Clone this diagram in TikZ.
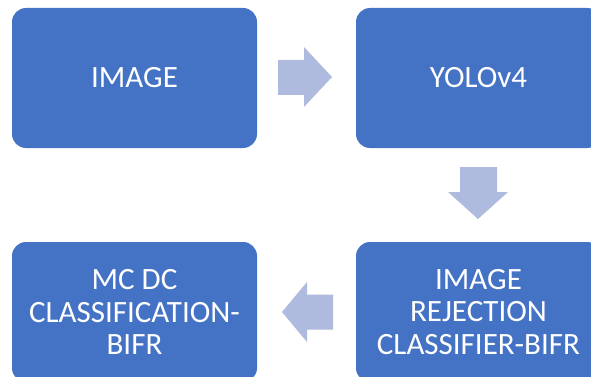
\documentclass[tikz,border=0pt]{standalone}
\usepackage{fontspec}
\setmainfont{Carlito}
\definecolor{boxblue}{RGB}{68,114,196}
\definecolor{arrowblue}{RGB}{174,187,222}
\begin{document}
\begin{tikzpicture}[x=1pt,y=-1pt,
  stage/.style={fill=boxblue, rounded corners=14pt, minimum width=245pt, minimum height=140pt,
    inner sep=0pt, text=white, align=center, font=\fontsize{31}{32.5}\selectfont},
  blockarrow/.style={fill=arrowblue}]
\useasboundingbox (0,0) rectangle (591,377);
\clip (0,0) rectangle (591,377);
\fill[white] (0,0) rectangle (591,377);
\node[stage] (img)  at (134.5,78)  {IMAGE};
\node[stage] (yolo) at (478.5,78)  {YOLOv4};
\node[stage] (rej)  at (478.5,312) {IMAGE\\REJECTION\\CLASSIFIER-BIFR};
\node[stage] (mc)   at (134.5,312) {MC DC\\CLASSIFICATION-\\BIFR};
% arrow IMAGE -> YOLOv4
\fill[blockarrow] (278,60) -- (304,60) -- (304,47) -- (332,77) -- (304,107) -- (304,95) -- (278,95) -- cycle;
% arrow YOLOv4 -> REJECTION
\fill[blockarrow] (460,167) -- (497,167) -- (497,192) -- (508,192) -- (478,219) -- (448,192) -- (460,192) -- cycle;
% arrow REJECTION -> MC DC
\fill[blockarrow] (333,294.5) -- (307,294.5) -- (307,282) -- (282,312) -- (307,342) -- (307,329.5) -- (333,329.5) -- cycle;
\end{tikzpicture}
\end{document}
